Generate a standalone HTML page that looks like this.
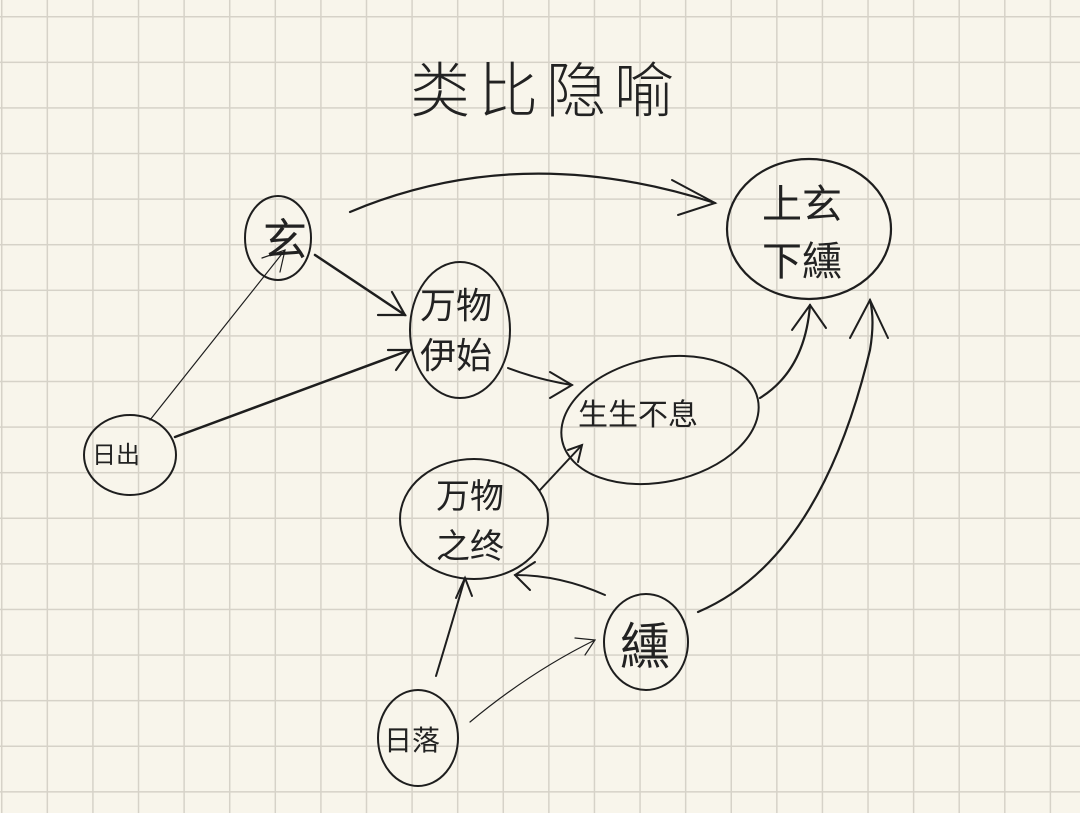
<!DOCTYPE html>
<html><head><meta charset="utf-8"><style>
html,body{margin:0;padding:0}
body{width:1080px;height:813px;overflow:hidden;background-color:#f8f5eb;
background-image:linear-gradient(to right,#d6d2c8 1.5px,transparent 1.5px),linear-gradient(to bottom,#d6d2c8 1.5px,transparent 1.5px);
background-size:45.6px 45.6px;background-position:1px 16px;}
svg{position:absolute;left:0;top:0}
text{font-family:"Liberation Sans","Noto Sans CJK SC",sans-serif;fill:#222}
</style></head><body>
<svg width="1080" height="813" viewBox="0 0 1080 813" fill="none" stroke="#1e1e1e" stroke-linecap="round">
<text x="410" y="112" font-size="60" stroke="none" font-weight="300" letter-spacing="8">类比隐喻</text>
<!-- ellipses -->
<ellipse cx="278" cy="238" rx="33" ry="42" stroke-width="2"/>
<ellipse cx="809" cy="229" rx="82" ry="70" stroke-width="2.2"/>
<ellipse cx="460" cy="330" rx="50" ry="68" stroke-width="2"/>
<ellipse cx="130" cy="455" rx="46" ry="40" stroke-width="2"/>
<ellipse cx="660" cy="420" rx="100" ry="62" stroke-width="2" transform="rotate(-12 660 420)"/>
<ellipse cx="474" cy="519" rx="74" ry="60" stroke-width="2"/>
<ellipse cx="646" cy="642" rx="42" ry="48" stroke-width="2"/>
<ellipse cx="418" cy="738" rx="40" ry="48" stroke-width="2"/>
<!-- labels -->
<text x="263" y="255" font-size="44" stroke="none">玄</text>
<text x="762" y="218" font-size="40" stroke="none">上玄</text>
<text x="762" y="275" font-size="40" stroke="none">下纁</text>
<text x="420" y="318" font-size="36" stroke="none">万物</text>
<text x="420" y="368" font-size="36" stroke="none">伊始</text>
<text x="92" y="463" font-size="24" stroke="none">日出</text>
<text x="578" y="425" font-size="30" stroke="none">生生不息</text>
<text x="436" y="508" font-size="34" stroke="none">万物</text>
<text x="436" y="558" font-size="34" stroke="none">之终</text>
<text x="620" y="664" font-size="50" stroke="none">纁</text>
<text x="384" y="750" font-size="28" stroke="none">日落</text>
<!-- connectors -->
<path d="M350 212 Q520 140 715 203" stroke-width="2.2"/>
<path d="M672 180 L715 203 L678 215" stroke-width="2"/>
<path d="M315 255 L405 315" stroke-width="2.5"/>
<path d="M378 315 L405 315 L392 292" stroke-width="2.2"/>
<path d="M150 420 L285 250" stroke-width="1.2"/>
<path d="M262 258 L285 250 L280 272" stroke-width="1.2"/>
<path d="M175 437 L410 350" stroke-width="2.5"/>
<path d="M388 350 L410 350 L396 370" stroke-width="2.2"/>
<path d="M508 368 Q540 380 572 385" stroke-width="2"/>
<path d="M550 372 L572 385 L550 398" stroke-width="2"/>
<path d="M540 490 L582 445" stroke-width="2"/>
<path d="M568 450 L582 445 L578 462" stroke-width="2"/>
<path d="M760 398 Q805 370 810 305" stroke-width="2.2"/>
<path d="M792 330 L810 305 L826 328" stroke-width="2"/>
<path d="M698 612 Q820 560 870 350 Q875 320 870 300" stroke-width="2.2"/>
<path d="M850 338 L870 300 L888 338" stroke-width="2"/>
<path d="M605 595 Q560 575 515 575" stroke-width="2"/>
<path d="M535 562 L515 575 L530 590" stroke-width="2"/>
<path d="M436 676 Q450 630 465 578" stroke-width="2"/>
<path d="M456 598 L465 578 L472 596" stroke-width="2"/>
<path d="M470 722 Q530 672 595 640" stroke-width="1.2"/>
<path d="M575 638 L595 640 L585 655" stroke-width="1.2"/>
</svg>
</body></html>
